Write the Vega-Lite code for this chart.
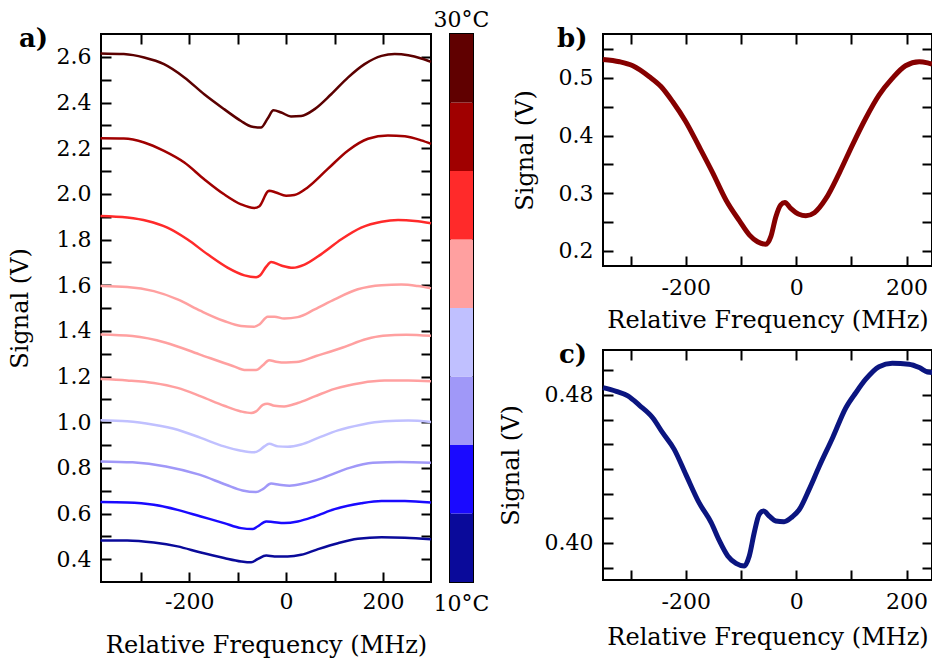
{
  "$schema": "https://vega.github.io/schema/vega-lite/v6.json",
  "background": "white",
  "padding": {"left": 7, "top": 8, "right": 0, "bottom": 0},
  "autosize": {"type": "pad"},
  "spacing": 7,
  "resolve": {"scale": {"color": "independent"}},
  "hconcat": [
    {
      "spacing": -5,
      "resolve": {"scale": {"color": "independent"}},
      "hconcat": [
        {
          "width": 330,
          "height": 548,
          "title": {"text": "a)", "anchor": "start", "frame": "group", "dx": -82, "dy": 40, "offset": 0, "baseline": "alphabetic"},
          "data": {"values": [
            {"s":1,"f":-383,"v":2.615},{"s":1,"f":-335,"v":2.612},{"s":1,"f":-293,"v":2.597},{"s":1,"f":-252,"v":2.568},{"s":1,"f":-210,"v":2.51},{"s":1,"f":-169,"v":2.436},{"s":1,"f":-128,"v":2.371},{"s":1,"f":-93,"v":2.319},{"s":1,"f":-72,"v":2.295},{"s":1,"f":-52,"v":2.29},{"s":1,"f":-38,"v":2.33},{"s":1,"f":-26,"v":2.366},{"s":1,"f":-10,"v":2.356},{"s":1,"f":10,"v":2.339},{"s":1,"f":31,"v":2.341},{"s":1,"f":59,"v":2.371},{"s":1,"f":93,"v":2.436},{"s":1,"f":128,"v":2.51},{"s":1,"f":162,"v":2.568},{"s":1,"f":197,"v":2.604},{"s":1,"f":224,"v":2.612},{"s":1,"f":252,"v":2.607},{"s":1,"f":279,"v":2.593},{"s":1,"f":299,"v":2.578},
            {"s":2,"f":-383,"v":2.243},{"s":2,"f":-335,"v":2.242},{"s":2,"f":-293,"v":2.225},{"s":2,"f":-252,"v":2.188},{"s":2,"f":-210,"v":2.137},{"s":2,"f":-169,"v":2.064},{"s":2,"f":-128,"v":1.998},{"s":2,"f":-93,"v":1.954},{"s":2,"f":-66,"v":1.938},{"s":2,"f":-55,"v":1.946},{"s":2,"f":-38,"v":2.01},{"s":2,"f":-35,"v":2.014},{"s":2,"f":-21,"v":2.006},{"s":2,"f":0,"v":1.992},{"s":2,"f":17,"v":1.995},{"s":2,"f":45,"v":2.029},{"s":2,"f":86,"v":2.109},{"s":2,"f":128,"v":2.19},{"s":2,"f":169,"v":2.241},{"s":2,"f":210,"v":2.256},{"s":2,"f":245,"v":2.252},{"s":2,"f":279,"v":2.234},{"s":2,"f":299,"v":2.219},
            {"s":3,"f":-383,"v":1.903},{"s":3,"f":-328,"v":1.896},{"s":3,"f":-286,"v":1.881},{"s":3,"f":-245,"v":1.852},{"s":3,"f":-204,"v":1.801},{"s":3,"f":-162,"v":1.735},{"s":3,"f":-121,"v":1.677},{"s":3,"f":-86,"v":1.643},{"s":3,"f":-62,"v":1.635},{"s":3,"f":-54,"v":1.642},{"s":3,"f":-41,"v":1.681},{"s":3,"f":-31,"v":1.701},{"s":3,"f":-10,"v":1.686},{"s":3,"f":14,"v":1.676},{"s":3,"f":38,"v":1.69},{"s":3,"f":72,"v":1.735},{"s":3,"f":114,"v":1.801},{"s":3,"f":155,"v":1.852},{"s":3,"f":197,"v":1.878},{"s":3,"f":231,"v":1.885},{"s":3,"f":266,"v":1.881},{"s":3,"f":299,"v":1.871},
            {"s":4,"f":-383,"v":1.596},{"s":4,"f":-328,"v":1.592},{"s":4,"f":-273,"v":1.574},{"s":4,"f":-224,"v":1.538},{"s":4,"f":-176,"v":1.487},{"s":4,"f":-128,"v":1.443},{"s":4,"f":-93,"v":1.421},{"s":4,"f":-66,"v":1.418},{"s":4,"f":-55,"v":1.428},{"s":4,"f":-38,"v":1.462},{"s":4,"f":-24,"v":1.462},{"s":4,"f":-4,"v":1.454},{"s":4,"f":24,"v":1.46},{"s":4,"f":59,"v":1.494},{"s":4,"f":100,"v":1.538},{"s":4,"f":148,"v":1.582},{"s":4,"f":197,"v":1.6},{"s":4,"f":238,"v":1.603},{"s":4,"f":272,"v":1.596},{"s":4,"f":299,"v":1.586},
            {"s":5,"f":-383,"v":1.384},{"s":5,"f":-317,"v":1.377},{"s":5,"f":-248,"v":1.348},{"s":5,"f":-179,"v":1.297},{"s":5,"f":-110,"v":1.246},{"s":5,"f":-83,"v":1.228},{"s":5,"f":-62,"v":1.228},{"s":5,"f":-48,"v":1.249},{"s":5,"f":-35,"v":1.271},{"s":5,"f":-21,"v":1.265},{"s":5,"f":0,"v":1.261},{"s":5,"f":21,"v":1.263},{"s":5,"f":62,"v":1.29},{"s":5,"f":117,"v":1.327},{"s":5,"f":166,"v":1.364},{"s":5,"f":200,"v":1.378},{"s":5,"f":248,"v":1.383},{"s":5,"f":299,"v":1.378},
            {"s":6,"f":-383,"v":1.189},{"s":6,"f":-328,"v":1.183},{"s":6,"f":-273,"v":1.172},{"s":6,"f":-224,"v":1.15},{"s":6,"f":-176,"v":1.113},{"s":6,"f":-128,"v":1.072},{"s":6,"f":-93,"v":1.047},{"s":6,"f":-72,"v":1.04},{"s":6,"f":-62,"v":1.047},{"s":6,"f":-48,"v":1.076},{"s":6,"f":-39,"v":1.081},{"s":6,"f":-24,"v":1.072},{"s":6,"f":-4,"v":1.069},{"s":6,"f":24,"v":1.084},{"s":6,"f":59,"v":1.113},{"s":6,"f":100,"v":1.146},{"s":6,"f":155,"v":1.172},{"s":6,"f":203,"v":1.182},{"s":6,"f":252,"v":1.183},{"s":6,"f":299,"v":1.179},
            {"s":7,"f":-383,"v":1.008},{"s":7,"f":-328,"v":1.004},{"s":7,"f":-273,"v":0.989},{"s":7,"f":-224,"v":0.967},{"s":7,"f":-176,"v":0.931},{"s":7,"f":-128,"v":0.894},{"s":7,"f":-93,"v":0.875},{"s":7,"f":-66,"v":0.868},{"s":7,"f":-55,"v":0.877},{"s":7,"f":-45,"v":0.894},{"s":7,"f":-35,"v":0.905},{"s":7,"f":-17,"v":0.894},{"s":7,"f":3,"v":0.892},{"s":7,"f":31,"v":0.902},{"s":7,"f":66,"v":0.931},{"s":7,"f":107,"v":0.964},{"s":7,"f":155,"v":0.989},{"s":7,"f":203,"v":1.004},{"s":7,"f":252,"v":1.007},{"s":7,"f":299,"v":1.001},
            {"s":8,"f":-383,"v":0.828},{"s":8,"f":-317,"v":0.824},{"s":8,"f":-248,"v":0.806},{"s":8,"f":-179,"v":0.77},{"s":8,"f":-124,"v":0.726},{"s":8,"f":-90,"v":0.701},{"s":8,"f":-62,"v":0.694},{"s":8,"f":-48,"v":0.707},{"s":8,"f":-31,"v":0.731},{"s":8,"f":-14,"v":0.726},{"s":8,"f":7,"v":0.722},{"s":8,"f":35,"v":0.731},{"s":8,"f":76,"v":0.756},{"s":8,"f":131,"v":0.8},{"s":8,"f":179,"v":0.822},{"s":8,"f":234,"v":0.826},{"s":8,"f":299,"v":0.822},
            {"s":9,"f":-383,"v":0.65},{"s":9,"f":-328,"v":0.648},{"s":9,"f":-273,"v":0.638},{"s":9,"f":-224,"v":0.616},{"s":9,"f":-176,"v":0.587},{"s":9,"f":-128,"v":0.558},{"s":9,"f":-93,"v":0.536},{"s":9,"f":-69,"v":0.532},{"s":9,"f":-59,"v":0.543},{"s":9,"f":-41,"v":0.565},{"s":9,"f":-28,"v":0.563},{"s":9,"f":-4,"v":0.558},{"s":9,"f":24,"v":0.565},{"s":9,"f":59,"v":0.587},{"s":9,"f":100,"v":0.619},{"s":9,"f":155,"v":0.645},{"s":9,"f":197,"v":0.655},{"s":9,"f":245,"v":0.655},{"s":9,"f":299,"v":0.648},
            {"s":10,"f":-383,"v":0.482},{"s":10,"f":-328,"v":0.482},{"s":10,"f":-273,"v":0.473},{"s":10,"f":-224,"v":0.456},{"s":10,"f":-176,"v":0.429},{"s":10,"f":-128,"v":0.405},{"s":10,"f":-93,"v":0.39},{"s":10,"f":-72,"v":0.386},{"s":10,"f":-59,"v":0.4},{"s":10,"f":-41,"v":0.416},{"s":10,"f":-24,"v":0.412},{"s":10,"f":3,"v":0.412},{"s":10,"f":31,"v":0.419},{"s":10,"f":66,"v":0.444},{"s":10,"f":107,"v":0.47},{"s":10,"f":148,"v":0.489},{"s":10,"f":197,"v":0.496},{"s":10,"f":245,"v":0.494},{"s":10,"f":299,"v":0.487}
          ]},
          "layer": [
            {
              "mark": {"type": "line", "strokeWidth": 2.5, "interpolate": "monotone"},
              "encoding": {
                "x": {"field": "f", "type": "quantitative", "scale": {"domain": [-382, 299], "nice": false, "zero": false},
                  "axis": {"orient": "bottom", "values": [-300, -200, -100, 0, 100, 200], "labelExpr": "datum.value % 200 === 0 ? '' + datum.value : ''", "tickSize": -10, "encode": {"ticks": {"update": {"y2": {"signal": "datum.value % 200 === 0 ? -10 : -6"}}}}, "labelPadding": 19, "labelOverlap": false, "labelFlush": false, "title": "Relative Frequency (MHz)", "titlePadding": 21}},
                "y": {"field": "v", "type": "quantitative", "scale": {"domain": [0.3, 2.7], "nice": false, "zero": false},
                  "axis": {"orient": "left", "values": [0.4, 0.5, 0.6, 0.7, 0.8, 0.9, 1.0, 1.1, 1.2, 1.3, 1.4, 1.5, 1.6, 1.7, 1.8, 1.9, 2.0, 2.1, 2.2, 2.3, 2.4, 2.5, 2.6], "labelExpr": "round(datum.value*10) % 2 === 0 ? format(datum.value, '.1f') : ''", "tickSize": -10, "encode": {"ticks": {"update": {"x2": {"signal": "round(datum.value*10) % 2 === 0 ? 10 : 6"}}}}, "labelPadding": 20, "labelOverlap": false, "title": "Signal (V)", "titlePadding": 24}},
                "color": {"field": "s", "type": "nominal", "scale": {"domain": [1, 2, 3, 4, 5, 6, 7, 8, 9, 10], "range": ["#5c0000", "#a00000", "#ff2a2a", "#ffa0a0", "#ffa0a0", "#ffa0a0", "#c0c0ff", "#a098f8", "#1a0aff", "#0a0a9a"]}, "legend": null}
              }
            },
            {
              "mark": {"type": "line", "strokeOpacity": 0},
              "encoding": {
                "x": {"field": "f", "type": "quantitative", "scale": {"domain": [-382, 299], "nice": false, "zero": false},
                  "axis": {"orient": "top", "values": [-300, -200, -100, 0, 100, 200], "labels": false, "tickSize": -10, "encode": {"ticks": {"update": {"y2": {"signal": "datum.value % 200 === 0 ? 10 : 6"}}}}, "title": null}},
                "y": {"field": "v", "type": "quantitative", "scale": {"domain": [0.3, 2.7], "nice": false, "zero": false},
                  "axis": {"orient": "right", "values": [0.4, 0.5, 0.6, 0.7, 0.8, 0.9, 1.0, 1.1, 1.2, 1.3, 1.4, 1.5, 1.6, 1.7, 1.8, 1.9, 2.0, 2.1, 2.2, 2.3, 2.4, 2.5, 2.6], "labels": false, "tickSize": -10, "encode": {"ticks": {"update": {"x2": {"signal": "round(datum.value*10) % 2 === 0 ? -10 : -6"}}}}, "title": null}},
                "detail": {"field": "s", "type": "nominal"}
              }
            }
          ],
          "resolve": {"axis": {"x": "independent", "y": "independent"}}
        },
        {
          "width": 23,
          "height": 548,
          "title": {"text": "30°C", "fontSize": 22, "fontWeight": "normal", "anchor": "middle", "offset": 2},
          "data": {"values": [
            {"t": 1}, {"t": 2}, {"t": 3}, {"t": 4}, {"t": 5}, {"t": 6}, {"t": 7}, {"t": 8}
          ]},
          "mark": {"type": "rect"},
          "encoding": {
            "y": {"field": "t", "type": "ordinal", "sort": "descending", "axis": null, "scale": {"paddingInner": 0, "paddingOuter": 0}},
            "x": {"datum": "10°C", "type": "nominal", "scale": {"paddingInner": 0, "paddingOuter": 0}, "axis": {"title": null, "ticks": false, "domain": false, "labelAngle": 0, "labelPadding": 11}},
            "color": {"field": "t", "type": "ordinal", "scale": {"domain": [1, 2, 3, 4, 5, 6, 7, 8], "range": ["#0a0a9a", "#1a0aff", "#a098f8", "#c0c0ff", "#ffa0a0", "#ff2a2a", "#a00000", "#600000"]}, "legend": null}
          }
        }
      ]
    },
    {
      "spacing": 8,
      "vconcat": [
        {
          "width": 329,
          "height": 232,
          "title": {"text": "b)", "anchor": "start", "frame": "group", "dx": -46, "dy": 40, "offset": 0, "baseline": "alphabetic"},
          "data": {"values": [
            {"f":-350,"v":0.532},{"f":-320,"v":0.528},{"f":-296,"v":0.521},{"f":-266,"v":0.502},{"f":-245,"v":0.485},{"f":-224,"v":0.459},{"f":-200,"v":0.424},{"f":-176,"v":0.381},{"f":-151,"v":0.335},{"f":-127,"v":0.288},{"f":-103,"v":0.2525},{"f":-85,"v":0.228},{"f":-70,"v":0.216},{"f":-55,"v":0.2116},{"f":-46,"v":0.2248},{"f":-37,"v":0.259},{"f":-28,"v":0.28},{"f":-20.5,"v":0.284},{"f":-10,"v":0.274},{"f":5,"v":0.2636},{"f":17.5,"v":0.2612},{"f":33,"v":0.2664},{"f":54,"v":0.291},{"f":78,"v":0.335},{"f":102,"v":0.384},{"f":126,"v":0.43},{"f":150,"v":0.47},{"f":174,"v":0.499},{"f":198,"v":0.521},{"f":223,"v":0.528},{"f":238,"v":0.526},{"f":246,"v":0.524}
          ]},
          "layer": [
            {
              "mark": {"type": "line", "strokeWidth": 5, "color": "#860000", "interpolate": "monotone"},
              "encoding": {
                "x": {"field": "f", "type": "quantitative", "scale": {"domain": [-350, 246], "nice": false, "zero": false},
                  "axis": {"orient": "bottom", "values": [-300, -200, -100, 0, 100, 200], "labelExpr": "datum.value % 200 === 0 ? '' + datum.value : ''", "tickSize": -10, "encode": {"ticks": {"update": {"y2": {"signal": "datum.value % 200 === 0 ? -10 : -6"}}}}, "labelPadding": 21, "labelOverlap": false, "labelFlush": false, "title": "Relative Frequency (MHz)", "titlePadding": 10}},
                "y": {"field": "v", "type": "quantitative", "scale": {"domain": [0.174, 0.576], "nice": false, "zero": false},
                  "axis": {"orient": "left", "values": [0.2, 0.25, 0.3, 0.35, 0.4, 0.45, 0.5, 0.55], "labelExpr": "round(datum.value*100) % 10 === 0 ? format(datum.value, '.1f') : ''", "tickSize": -10, "encode": {"ticks": {"update": {"x2": {"signal": "round(datum.value*100) % 10 === 0 ? 10 : 6"}}}}, "labelPadding": 20, "labelOverlap": false, "title": "Signal (V)", "titlePadding": 21}}
              }
            },
            {
              "mark": {"type": "line", "strokeOpacity": 0},
              "encoding": {
                "x": {"field": "f", "type": "quantitative", "scale": {"domain": [-350, 246], "nice": false, "zero": false},
                  "axis": {"orient": "top", "values": [-300, -200, -100, 0, 100, 200], "labels": false, "tickSize": -10, "encode": {"ticks": {"update": {"y2": {"signal": "datum.value % 200 === 0 ? 10 : 6"}}}}, "title": null}},
                "y": {"field": "v", "type": "quantitative", "scale": {"domain": [0.174, 0.576], "nice": false, "zero": false},
                  "axis": {"orient": "right", "values": [0.2, 0.25, 0.3, 0.35, 0.4, 0.45, 0.5, 0.55], "labels": false, "tickSize": -10, "encode": {"ticks": {"update": {"x2": {"signal": "round(datum.value*100) % 10 === 0 ? -10 : -6"}}}}, "title": null}}
              }
            }
          ],
          "resolve": {"axis": {"x": "independent", "y": "independent"}}
        },
        {
          "width": 329,
          "height": 230,
          "title": {"text": "c)", "anchor": "start", "frame": "group", "dx": -44, "dy": 40, "offset": 0, "baseline": "alphabetic"},
          "data": {"values": [
            {"f":-350,"v":0.484},{"f":-326,"v":0.482},{"f":-305,"v":0.4795},{"f":-284,"v":0.4744},{"f":-260,"v":0.4677},{"f":-242,"v":0.4596},{"f":-221,"v":0.4506},{"f":-200,"v":0.4371},{"f":-176,"v":0.4218},{"f":-154,"v":0.411},{"f":-139,"v":0.4011},{"f":-124,"v":0.393},{"f":-109,"v":0.389},{"f":-94,"v":0.3876},{"f":-85,"v":0.393},{"f":-76,"v":0.4056},{"f":-67,"v":0.4155},{"f":-59,"v":0.4173},{"f":-49,"v":0.4146},{"f":-37,"v":0.4119},{"f":-22,"v":0.4115},{"f":-7,"v":0.4142},{"f":5,"v":0.4178},{"f":23.5,"v":0.429},{"f":42,"v":0.4416},{"f":66,"v":0.4569},{"f":90,"v":0.4731},{"f":108,"v":0.4812},{"f":126,"v":0.4885},{"f":150,"v":0.4953},{"f":174,"v":0.4971},{"f":204,"v":0.4966},{"f":223,"v":0.4948},{"f":238,"v":0.4924},{"f":246,"v":0.4921}
          ]},
          "layer": [
            {
              "mark": {"type": "line", "strokeWidth": 5, "color": "#0b1580", "interpolate": "monotone"},
              "encoding": {
                "x": {"field": "f", "type": "quantitative", "scale": {"domain": [-350, 246], "nice": false, "zero": false},
                  "axis": {"orient": "bottom", "values": [-300, -200, -100, 0, 100, 200], "labelExpr": "datum.value % 200 === 0 ? '' + datum.value : ''", "tickSize": -10, "encode": {"ticks": {"update": {"y2": {"signal": "datum.value % 200 === 0 ? -10 : -6"}}}}, "labelPadding": 21, "labelOverlap": false, "labelFlush": false, "title": "Relative Frequency (MHz)", "titlePadding": 13}},
                "y": {"field": "v", "type": "quantitative", "scale": {"domain": [0.38, 0.5043], "nice": false, "zero": false},
                  "axis": {"orient": "left", "values": [0.38667, 0.4, 0.41333, 0.42667, 0.44, 0.45333, 0.46667, 0.48, 0.49333], "labelExpr": "abs(datum.value - 0.4) < 0.001 || abs(datum.value - 0.48) < 0.001 ? format(datum.value, '.2f') : ''", "tickSize": -10, "encode": {"ticks": {"update": {"x2": {"signal": "abs(datum.value - 0.4) < 0.001 || abs(datum.value - 0.48) < 0.001 ? 10 : 6"}}}}, "labelPadding": 20, "labelOverlap": false, "title": "Signal (V)", "titlePadding": 21}}
              }
            },
            {
              "mark": {"type": "line", "strokeOpacity": 0},
              "encoding": {
                "x": {"field": "f", "type": "quantitative", "scale": {"domain": [-350, 246], "nice": false, "zero": false},
                  "axis": {"orient": "top", "values": [-300, -200, -100, 0, 100, 200], "labels": false, "tickSize": -10, "encode": {"ticks": {"update": {"y2": {"signal": "datum.value % 200 === 0 ? 10 : 6"}}}}, "title": null}},
                "y": {"field": "v", "type": "quantitative", "scale": {"domain": [0.38, 0.5043], "nice": false, "zero": false},
                  "axis": {"orient": "right", "values": [0.38667, 0.4, 0.41333, 0.42667, 0.44, 0.45333, 0.46667, 0.48, 0.49333], "labels": false, "tickSize": -10, "encode": {"ticks": {"update": {"x2": {"signal": "abs(datum.value - 0.4) < 0.001 || abs(datum.value - 0.48) < 0.001 ? -10 : -6"}}}}, "title": null}}
              }
            }
          ],
          "resolve": {"axis": {"x": "independent", "y": "independent"}}
        }
      ]
    }
  ],
  "config": {
    "font": "DejaVu Serif",
    "view": {"stroke": "black", "strokeWidth": 2},
    "axis": {"labelFont": "DejaVu Serif", "titleFont": "DejaVu Serif", "labelFontSize": 22, "titleFontSize": 24, "titleFontWeight": "normal", "labelColor": "black", "titleColor": "black", "domain": false, "grid": false, "tickColor": "black", "tickWidth": 2},
    "title": {"font": "DejaVu Serif", "fontSize": 26, "fontWeight": "bold", "color": "black"}
  }
}
